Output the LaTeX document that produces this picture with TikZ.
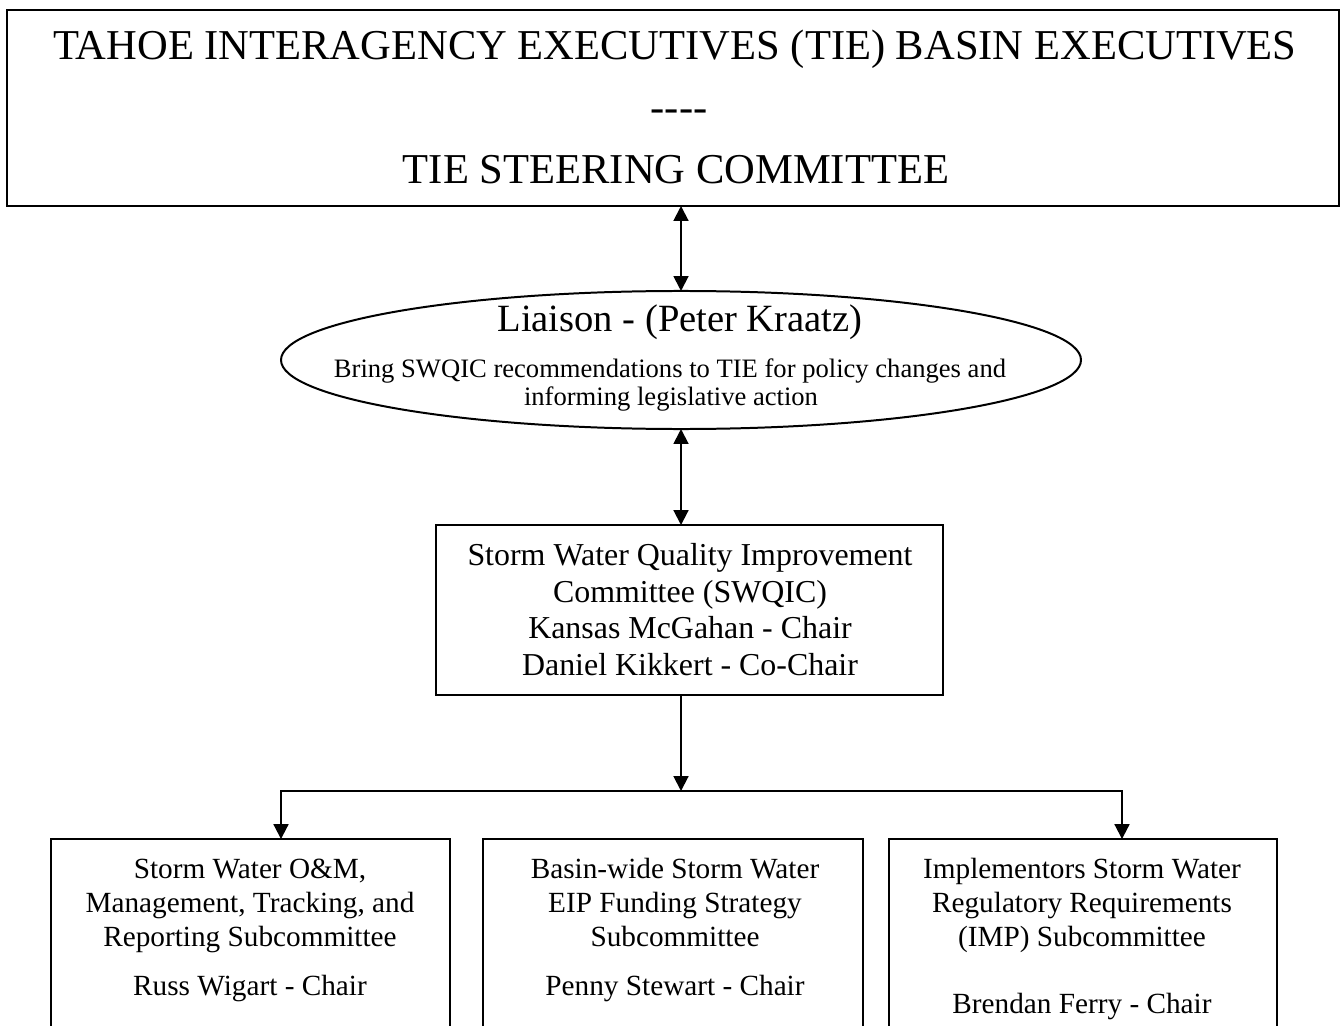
\documentclass[tikz,border=0pt]{standalone}
\usepackage{fontspec}
\setmainfont{Liberation Serif}
\usetikzlibrary{shapes.geometric,arrows.meta}
\begin{document}
\begin{tikzpicture}[x=0.376pt,y=-0.376pt,
  box/.style={draw,line width=0.75pt,rectangle,inner sep=0pt,outer sep=0pt},
  oval/.style={draw,line width=0.75pt,ellipse,inner sep=0pt,outer sep=0pt},
  tx/.style={anchor=base,inner sep=0pt},
  conn/.style={line width=0.75pt},
  arr/.style={conn,-{Triangle[length=5.6pt,width=5.6pt]}},
  darr/.style={conn,{Triangle[length=5.6pt,width=5.6pt]}-{Triangle[length=5.6pt,width=5.6pt]}},
  fxvi/.style={font=\fontsize{16}{19}\selectfont},
  fxiv/.style={font=\fontsize{14.5}{17}\selectfont},
  fxii/.style={font=\fontsize{12}{14}\selectfont},
  fxi/.style={font=\fontsize{11}{13}\selectfont},
  fx/.style={font=\fontsize{10}{12}\selectfont}
]
\clip (0,0) rectangle (1341,1026);
\fill[white] (0,0) rectangle (1341,1026);

% top box
\node[box,minimum width=500.8pt,minimum height=73.7pt] (tie) at (673,108) {};
\node[tx,fxvi] (t1) at (675,60) {TAHOE INTERAGENCY EXECUTIVES (TIE) BASIN EXECUTIVES};
\node[tx,fxvi] (t2) at (679,122) {\mbox{-}\mbox{-}\mbox{-}\mbox{-}};
\node[tx,fxvi] (t3) at (676,184) {TIE STEERING COMMITTEE};

% liaison ellipse
\node[oval,minimum width=300.8pt,minimum height=51.9pt] (liaison) at (681,360) {};
\node[tx,fxiv] (l1) at (680,331) {Liaison - (Peter Kraatz)};
\node[tx,fx] (l2) at (670,378) {Bring SWQIC recommendations to TIE for policy changes and};
\node[tx,fx] (l3) at (671,406) {informing legislative action};

% SWQIC box
\node[box,minimum width=190.6pt,minimum height=63.9pt] (swqic) at (689.5,610) {};
\node[tx,fxii] (q1) at (690,565) {Storm Water Quality Improvement};
\node[tx,fxii] (q2) at (690,602) {Committee (SWQIC)};
\node[tx,fxii] (q3) at (690,638) {Kansas McGahan - Chair};
\node[tx,fxii] (q4) at (690,675) {Daniel Kikkert - Co-Chair};

% subcommittee boxes
\node[box,minimum width=150pt,minimum height=98.1pt] (s1) at (250.5,969.5) {};
\node[box,minimum width=142.9pt,minimum height=98.1pt] (s2) at (673,969.5) {};
\node[box,minimum width=145.9pt,minimum height=98.1pt] (s3) at (1083,969.5) {};

\node[tx,fxi] (a1) at (250,878) {Storm Water O\&M,};
\node[tx,fxi] (a2) at (250,912) {Management, Tracking, and};
\node[tx,fxi] (a3) at (250,946) {Reporting Subcommittee};
\node[tx,fxi] (a4) at (250,995) {Russ Wigart - Chair};

\node[tx,fxi] (b1) at (675,878) {Basin-wide Storm Water};
\node[tx,fxi] (b2) at (675,912) {EIP Funding Strategy};
\node[tx,fxi] (b3) at (675,946) {Subcommittee};
\node[tx,fxi] (b4) at (675,995) {Penny Stewart - Chair};

\node[tx,fxi] (c1) at (1082,878) {Implementors Storm Water};
\node[tx,fxi] (c2) at (1082,912) {Regulatory Requirements};
\node[tx,fxi] (c3) at (1082,946) {(IMP) Subcommittee};
\node[tx,fxi] (c4) at (1082,1013) {Brendan Ferry - Chair};

% connectors
\draw[darr] (liaison.north |- tie.south) -- (liaison.north);
\draw[darr] (liaison.south) -- (liaison.south |- swqic.north);
\coordinate (j) at (681,791);
\coordinate (hl) at (281,791);
\coordinate (hr) at (1122,791);
\draw[arr] (liaison.south |- swqic.south) -- (j);
\draw[arr] (j) -- (hl) -- (hl |- s1.north);
\draw[arr] (j) -- (hr) -- (hr |- s3.north);
\end{tikzpicture}
\end{document}
